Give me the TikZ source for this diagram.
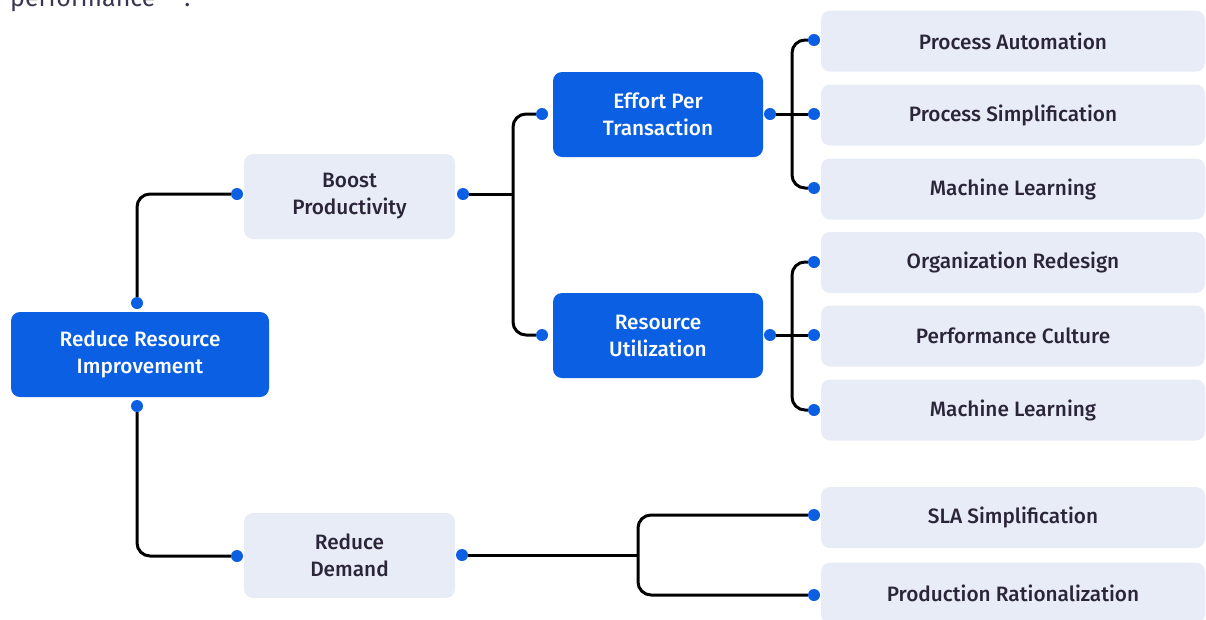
\documentclass[tikz,border=0pt]{standalone}
\usepackage{fontspec}
\setmainfont{Fira Sans}[BoldFont={* Medium}]
\definecolor{mblue}{HTML}{0A5FE3}
\definecolor{lightbox}{HTML}{E8ECF7}
\definecolor{darktext}{HTML}{2B2539}
\definecolor{greytext}{HTML}{3B3650}
\begin{document}
\begin{tikzpicture}[x=1pt,y=-1pt,
  bluebox/.style={rectangle, rounded corners=9pt, fill=mblue, text=white,
    font=\bfseries\fontsize{20.8}{27}\selectfont, align=center, inner sep=0pt},
  greybox/.style={rectangle, rounded corners=9pt, fill=lightbox, text=darktext,
    font=\bfseries\fontsize{20.8}{27}\selectfont, align=center, inner sep=0pt},
  leafbox/.style={greybox, minimum width=384pt, minimum height=61pt},
  dot/.style={circle, fill=mblue, minimum size=12pt, inner sep=0pt},
  conn/.style={line width=3pt, black, rounded corners=13pt}
]
\useasboundingbox (0,0) rectangle (1206,619);

% partial heading text cut at top
\node[anchor=base west, inner sep=0pt, text=greytext, font=\fontsize{25}{30}\selectfont] (head) at (10,6) {performance\hspace{29pt}:};

% main boxes
\node[bluebox, minimum width=258pt, minimum height=85pt] (root) at (140,354.5) {Reduce Resource\\Improvement};
\node[greybox, minimum width=211pt, minimum height=85pt] (boost) at (349.5,196.5) {Boost\\Productivity};
\node[greybox, minimum width=211pt, minimum height=85pt] (demand) at (349.5,555.5) {Reduce\\Demand};
\node[bluebox, minimum width=210pt, minimum height=85pt] (effort) at (658,114.5) {Effort Per\\Transaction};
\node[bluebox, minimum width=210pt, minimum height=85pt] (util) at (658,335.5) {Resource\\Utilization};

% leaves
\node[leafbox] (pa) at (1013,41) {Process Automation};
\node[leafbox] (ps) at (1013,115) {Process Simplification};
\node[leafbox] (ml1) at (1013,189) {Machine Learning};
\node[leafbox] (or) at (1013,262.5) {Organization Redesign};
\node[leafbox] (pc) at (1013,336) {Performance Culture};
\node[leafbox] (ml2) at (1013,410) {Machine Learning};
\node[leafbox] (sla) at (1013,517.5) {SLA Simplification};
\node[leafbox] (pr) at (1013,593) {Production Rationalization};

% dots
\node[dot] (rt) at (137,303) {};
\node[dot] (rb) at (137,406) {};
\node[dot] (bl) at (237,194) {};
\node[dot] (br) at (463,194) {};
\node[dot] (dl) at (237,556) {};
\node[dot] (dr) at (462,555) {};
\node[dot] (el) at (542,114) {};
\node[dot] (er) at (770,114) {};
\node[dot] (ul) at (542,335) {};
\node[dot] (ur) at (770,335) {};
\node[dot] (dpa) at (814,40) {};
\node[dot] (dps) at (814,114) {};
\node[dot] (dml1) at (814,188) {};
\node[dot] (dor) at (814,262) {};
\node[dot] (dpc) at (814,335) {};
\node[dot] (dml2) at (814,410) {};
\node[dot] (dsla) at (814,515) {};
\node[dot] (dpr) at (814,595) {};

% junctions
\coordinate (j1) at (513,194);
\coordinate (j2) at (792,114);
\coordinate (j3) at (792,335);
\coordinate (j4) at (638,555);

% connectors
\draw[conn] (rt) |- (bl);
\draw[conn] (rb) |- (dl);
\draw[conn] (br) -- (j1);
\draw[conn] (el) -| (j1) |- (ul);
\draw[conn] (er) -- (dps);
\draw[conn] (dpa) -| (j2) |- (dml1);
\draw[conn] (ur) -- (dpc);
\draw[conn] (dor) -| (j3) |- (dml2);
\draw[conn] (dr) -- (j4);
\draw[conn] (dsla) -| (j4) |- (dpr);
\end{tikzpicture}
\end{document}
